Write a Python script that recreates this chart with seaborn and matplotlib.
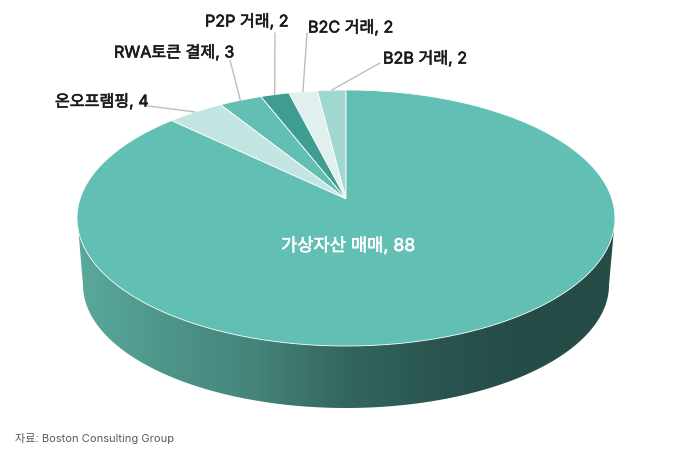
import numpy as np
import matplotlib
matplotlib.use('Agg')
import matplotlib.pyplot as plt
import matplotlib.patheffects as pe
from matplotlib.colors import LinearSegmentedColormap
from matplotlib.patches import Polygon
import seaborn as sns

# data, counter-clockwise from 12 o'clock
labels = ['B2B 거래', 'B2C 거래', 'P2P 거래', 'RWA토큰 결제', '온오프램핑', '가상자산 매매']
values = [2, 2, 2, 3, 4, 88]
slice_colors = ['#A0D8D1', '#DFF0EE', '#3F9C90', '#61BFB4', '#C2E5E1', '#61BFB4']
label_pos = [(383, 58), (308, 27), (205, 21), (114, 52), (55, 101), (281, 246)]
leader_start = [(380, 63), (307, 33), (275, 33), (230, 60), (148, 106)]
source = '자료: Boston Consulting Group'

side_stops = ['#5AA99C', '#4E9589', '#44847A', '#33665F', '#2A5550', '#254C47', '#254C47']

sns.set_theme(style='white')
plt.rcParams['font.family'] = ['Inter', 'Noto Sans CJK KR', 'DejaVu Sans']

fig = plt.figure(figsize=(6.84, 4.59), dpi=100)
ax = fig.add_axes([0, 0, 1, 1])

wedges, _ = ax.pie(values, startangle=90, colors=sns.color_palette(slice_colors))

# tilt of the top face, unit circle -> pixels
CX, CY, A, B, K = 346.0, 199.0, 266.0, 125.2, 0.1484


def project(theta):
    u, v = np.cos(np.radians(theta)), np.sin(np.radians(theta))
    w = 1 + K * v
    return CX + A * u / w, CY - B * v / w


ax.set_xlim(0, 684)
ax.set_ylim(459, 0)
ax.set_aspect('auto')
ax.axis('off')

# side wall
ang = np.linspace(np.pi, 0, 200)
wall_x = np.r_[77, 346 + 263 * np.cos(ang), 615]
wall_y = np.r_[214, 285 + 123 * np.sin(ang), 218]
wall = Polygon(np.c_[wall_x, wall_y], closed=True, fc='none', ec='none', transform=ax.transData)
ax.add_patch(wall)
cmap = LinearSegmentedColormap.from_list('side', side_stops)
grad = ax.imshow(np.linspace(0, 1, 256).reshape(1, -1), extent=(77, 615, 420, 200), cmap=cmap, aspect='auto', zorder=1)
grad.set_clip_path(wall)
ax.set_xlim(0, 684)
ax.set_ylim(459, 0)

# top face, from the pie's own wedge angles
mids = []
for w, c in zip(wedges, slice_colors):
    th = np.linspace(w.theta1, w.theta2, 160)
    x, y = project(th)
    pts = np.c_[np.r_[CX, x], np.r_[CY, y]]
    ax.add_patch(Polygon(pts, closed=True, fc=c, ec='white', lw=0.6, zorder=2))
    mids.append(project((w.theta1 + w.theta2) / 2))
    w.set_visible(False)

for i, (name, val) in enumerate(zip(labels, values)):
    if i < len(leader_start):
        ax.plot([leader_start[i][0], mids[i][0]], [leader_start[i][1], mids[i][1]],
                color='#BDBDBD', lw=1, zorder=3)
        col, size = '#1A1A1A', 11.6
    else:
        col, size = 'white', 12.7
    ax.text(*label_pos[i], f'{name}, {val}', fontsize=size, color=col, va='center', ha='left', zorder=4,
            path_effects=[pe.withStroke(linewidth=0.45, foreground=col)])

ax.text(15, 439, source, fontsize=8.0, color='#5A5A5A', va='center', ha='left')

fig.savefig('out.png', dpi=100)
